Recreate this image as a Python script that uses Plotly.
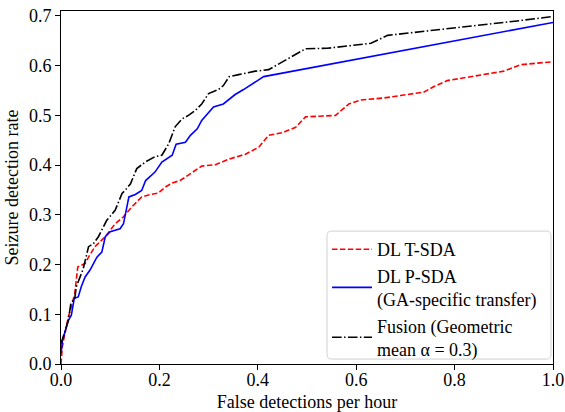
import plotly.graph_objects as go

# DL T-SDA
t_x = [0, 0.0027, 0.008, 0.015, 0.021, 0.028, 0.034, 0.049, 0.056, 0.069, 0.090, 0.110, 0.127, 0.144,
       0.164, 0.178, 0.198, 0.212, 0.226, 0.242, 0.259, 0.273, 0.286, 0.314, 0.341, 0.375, 0.402, 0.422,
       0.449, 0.477, 0.497, 0.558, 0.585, 0.609, 0.656, 0.690, 0.738, 0.758, 0.785, 0.846, 0.900, 0.934, 1.0]
t_y = [0, 0.035, 0.062, 0.095, 0.115, 0.142, 0.195, 0.202, 0.215, 0.236, 0.256, 0.282, 0.296, 0.316,
       0.336, 0.340, 0.344, 0.356, 0.364, 0.369, 0.380, 0.390, 0.398, 0.401, 0.412, 0.422, 0.436, 0.460,
       0.465, 0.476, 0.497, 0.500, 0.523, 0.531, 0.535, 0.540, 0.547, 0.558, 0.570, 0.580, 0.589, 0.602, 0.608]

# DL P-SDA (GA-specific transfer)
p_x = [0, 0.003, 0.008, 0.015, 0.021, 0.027, 0.035, 0.041, 0.049, 0.059, 0.066, 0.073, 0.083, 0.090,
       0.100, 0.120, 0.127, 0.138, 0.151, 0.164, 0.172, 0.191, 0.205, 0.226, 0.234, 0.253, 0.263, 0.277,
       0.286, 0.310, 0.330, 0.354, 0.371, 0.412, 1.0]
p_y = [0.021, 0.048, 0.064, 0.088, 0.098, 0.132, 0.135, 0.155, 0.175, 0.189, 0.202, 0.215, 0.225, 0.256,
       0.266, 0.272, 0.282, 0.336, 0.341, 0.349, 0.369, 0.386, 0.406, 0.420, 0.442, 0.446, 0.460, 0.473,
       0.490, 0.517, 0.523, 0.542, 0.552, 0.578, 0.687]

# Fusion (Geometric mean alpha = 0.3)
f_x = [0, 0.004, 0.015, 0.020, 0.028, 0.031, 0.038, 0.045, 0.056, 0.066, 0.076, 0.093, 0.110, 0.124,
       0.130, 0.141, 0.154, 0.171, 0.191, 0.205, 0.219, 0.232, 0.246, 0.259, 0.273, 0.286, 0.300, 0.320,
       0.330, 0.342, 0.361, 0.395, 0.422, 0.449, 0.497, 0.541, 0.630, 0.664, 0.758, 0.846, 0.927, 1.0]
f_y = [0.041, 0.055, 0.088, 0.122, 0.132, 0.155, 0.175, 0.191, 0.236, 0.242, 0.256, 0.289, 0.309, 0.343,
       0.349, 0.362, 0.393, 0.406, 0.417, 0.420, 0.443, 0.477, 0.493, 0.500, 0.510, 0.523, 0.544, 0.552,
       0.560, 0.578, 0.582, 0.589, 0.592, 0.607, 0.634, 0.635, 0.645, 0.661, 0.671, 0.681, 0.690, 0.699]

x_ticks = [0.0, 0.2, 0.4, 0.6, 0.8, 1.0]
y_ticks = [0.0, 0.1, 0.2, 0.3, 0.4, 0.5, 0.6, 0.7]

FONT = "Liberation Serif"

fig = go.Figure()
fig.add_trace(go.Scatter(x=t_x, y=t_y, mode="lines", name="DL T-SDA",
                         line=dict(color="#ff0000", width=1.6, dash="5.5px,2.4px")))
fig.add_trace(go.Scatter(x=p_x, y=p_y, mode="lines", name="DL P-SDA<br>(GA-specific transfer)",
                         line=dict(color="#0000ff", width=1.6)))
fig.add_trace(go.Scatter(x=f_x, y=f_y, mode="lines", name="Fusion (Geometric<br>mean \u03b1 = 0.3)",
                         line=dict(color="#000000", width=1.6, dash="9.6px,2.4px,1.5px,2.4px")))

axis_common = dict(showline=True, linecolor="black", linewidth=1, mirror=True,
                   ticks="outside", ticklen=5, tickcolor="black", tickwidth=1,
                   showgrid=False, zeroline=False, automargin=False,
                   ticklabeloverflow="allow",
                   tickfont=dict(family=FONT, size=18, color="black"))

fig.update_xaxes(range=[0, 1.0], tickvals=x_ticks, ticktext=[f"{v:.1f}" for v in x_ticks],
                 ticklabelstandoff=-6,
                 title=dict(text="False detections per hour", font=dict(family=FONT, size=18, color="black"),
                            standoff=6),
                 **axis_common)
fig.update_yaxes(range=[0, 0.71], tickvals=y_ticks, ticktext=[f"{v:.1f}" for v in y_ticks],
                 title=dict(text="Seizure detection rate", font=dict(family=FONT, size=18, color="black"),
                            standoff=5),
                 **axis_common)

# rounded legend frame (paper coords)
x0, x1, y0, y1 = 0.5407, 0.9959, 0.014, 0.3765
rx, ry = 0.009, 0.0125
frame = (f"M {x0+rx},{y1} L {x1-rx},{y1} Q {x1},{y1} {x1},{y1-ry} L {x1},{y0+ry} "
         f"Q {x1},{y0} {x1-rx},{y0} L {x0+rx},{y0} Q {x0},{y0} {x0},{y0+ry} "
         f"L {x0},{y1-ry} Q {x0},{y1} {x0+rx},{y1} Z")

fig.update_layout(
    width=565, height=412,
    margin=dict(l=61, r=12, t=11, b=48),
    plot_bgcolor="white", paper_bgcolor="white",
    font=dict(family=FONT, size=18, color="black"),
    shapes=[dict(type="path", path=frame, xref="paper", yref="paper",
                 fillcolor="rgba(255,255,255,0.8)", line=dict(color="#d0d0d0", width=1),
                 layer="above")],
    legend=dict(x=0.5407, y=0.3765, xanchor="left", yanchor="top",
                bgcolor="rgba(0,0,0,0)", borderwidth=0, itemwidth=40,
                font=dict(family=FONT, size=18, color="black"), tracegroupgap=0),
    showlegend=True,
)

# remove the browser's default 8px body margin so the figure sits at the page origin
fig.write_html("out.html", config={"displayModeBar": False},
               post_script="document.body.style.margin='0';")
